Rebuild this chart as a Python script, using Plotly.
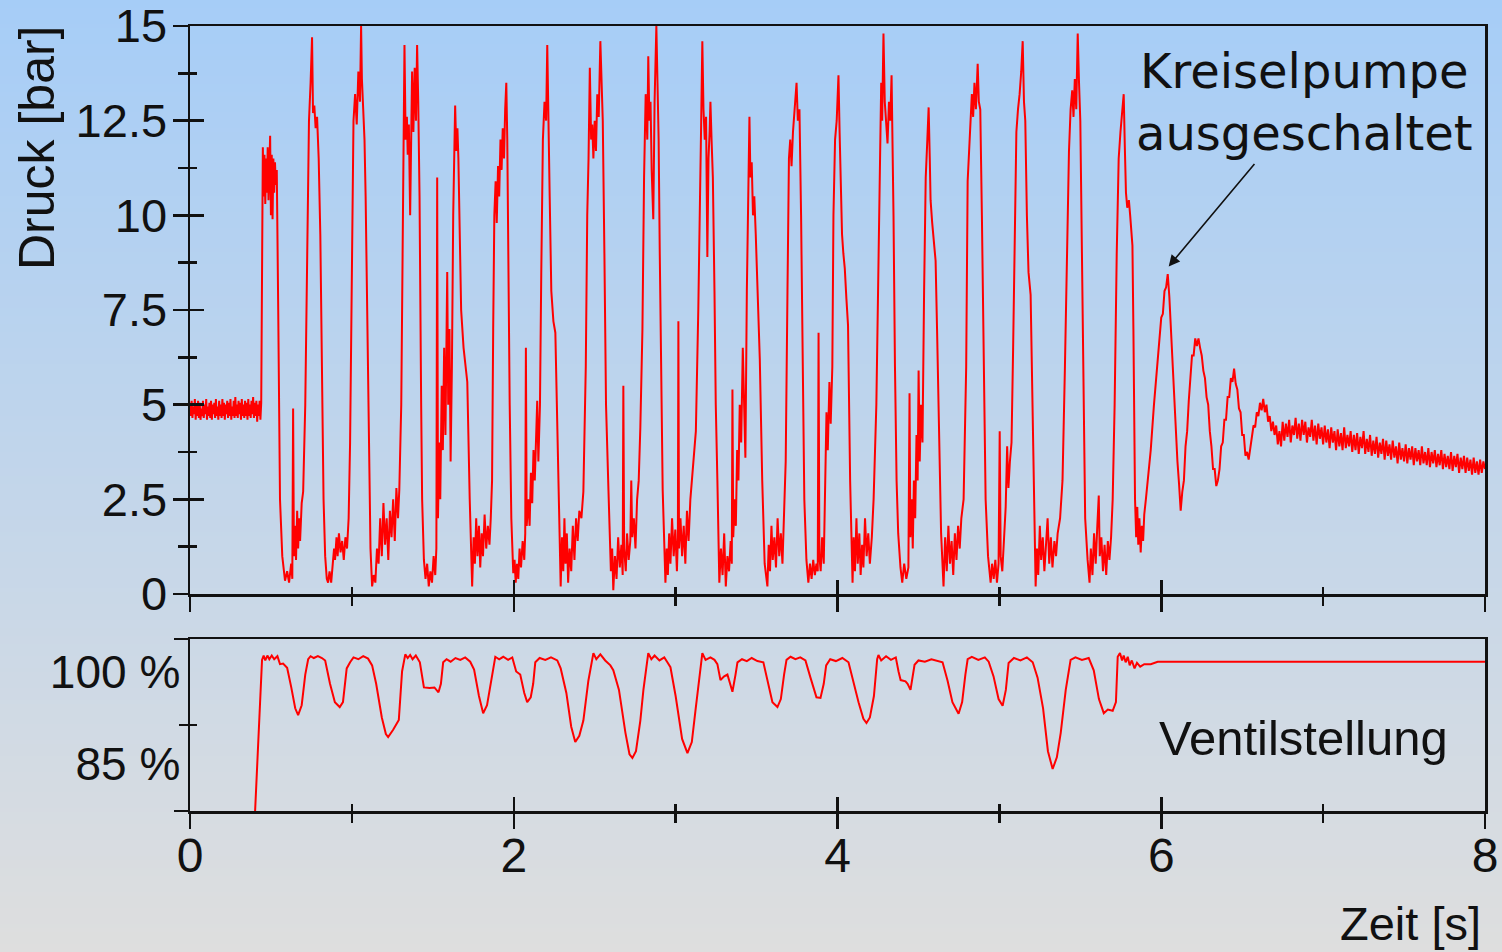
import plotly.graph_objects as go

# ---------------------------------------------------------------------------
# Messwerte: Druck [bar] über Zeit [s]
# ---------------------------------------------------------------------------
# Ruhedruck vor dem Zuschalten (verrauscht um ~4.9 bar)
druck_ruhe = [
    (0.000, 5.05), (0.005, 4.70), (0.010, 5.10), (0.015, 4.65), (0.020, 4.95), (0.025, 4.75),
    (0.030, 5.15), (0.035, 4.60), (0.040, 5.00), (0.045, 4.70), (0.050, 5.10), (0.055, 4.65),
    (0.060, 5.05), (0.065, 4.60), (0.070, 4.90), (0.075, 4.70), (0.080, 5.10), (0.085, 4.65),
    (0.090, 5.00), (0.095, 4.75), (0.100, 5.15), (0.105, 4.60), (0.110, 4.95), (0.115, 4.70),
    (0.120, 5.05), (0.125, 4.65), (0.130, 5.10), (0.135, 4.60), (0.140, 5.00), (0.145, 4.75),
    (0.150, 5.05), (0.155, 4.65), (0.160, 5.15), (0.165, 4.70), (0.170, 4.95), (0.175, 4.60),
    (0.180, 5.10), (0.185, 4.70), (0.190, 5.00), (0.195, 4.65), (0.200, 5.15), (0.205, 4.70),
    (0.210, 5.05), (0.215, 4.60), (0.220, 5.00), (0.225, 4.75), (0.230, 5.10), (0.235, 4.65),
    (0.240, 5.05), (0.245, 4.70), (0.250, 5.15), (0.255, 4.60), (0.260, 4.95), (0.265, 4.70),
    (0.270, 5.10), (0.275, 4.65), (0.280, 5.20), (0.285, 4.70), (0.290, 5.00), (0.295, 4.65),
    (0.300, 5.10), (0.305, 4.75), (0.310, 5.05), (0.315, 4.60), (0.320, 5.15), (0.325, 4.70),
    (0.330, 5.00), (0.335, 4.65), (0.340, 5.10), (0.345, 4.70), (0.350, 5.05), (0.355, 4.60),
    (0.360, 5.15), (0.365, 4.70), (0.370, 5.00), (0.375, 4.65), (0.380, 5.10), (0.385, 4.75),
    (0.390, 5.20), (0.395, 4.65), (0.400, 5.05), (0.405, 4.70), (0.410, 5.10), (0.415, 4.55),
    (0.420, 5.00), (0.425, 4.70), (0.430, 5.10), (0.435, 4.60), (0.440, 5.05),
]

# Druckpulsation bei laufender Kreiselpumpe
druck_pulsation = [
    (0.446, 10.6), (0.450, 11.8), (0.455, 10.5), (0.460, 11.6), (0.465, 10.3), (0.470, 11.5),
    (0.475, 10.6), (0.480, 11.8), (0.485, 10.4), (0.490, 11.4), (0.495, 12.1), (0.500, 10.0),
    (0.505, 11.6), (0.510, 9.9), (0.515, 11.5), (0.520, 10.6), (0.525, 11.4), (0.530, 10.8),
    (0.536, 11.2), (0.545, 7.5), (0.556, 2.5), (0.570, 1.0), (0.587, 0.35), (0.600, 0.6),
    (0.612, 0.3), (0.625, 0.8), (0.632, 0.4), (0.637, 4.9), (0.642, 1.0), (0.649, 1.8),
    (0.655, 0.9), (0.662, 2.2), (0.668, 1.2), (0.675, 2.0), (0.680, 1.4), (0.690, 2.4),
    (0.699, 2.7), (0.712, 5.0),
    (0.723, 9.0), (0.735, 12.5), (0.745, 13.5), (0.754, 14.7), (0.760, 12.7), (0.768, 12.9),
    (0.776, 12.3), (0.785, 12.6), (0.795, 11.5), (0.805, 9.5), (0.815, 6.0), (0.825, 2.5),
    (0.835, 1.0), (0.845, 0.4), (0.853, 0.3), (0.862, 0.6), (0.872, 0.3), (0.880, 0.7),
    (0.890, 1.2), (0.896, 0.9), (0.905, 1.5), (0.912, 1.0), (0.920, 1.6), (0.930, 1.1),
    (0.940, 1.4), (0.950, 0.9), (0.960, 1.5), (0.970, 1.2), (0.980, 2.0), (0.989, 4.0),
    (1.000, 9.0), (1.010, 12.5), (1.020, 13.2), (1.030, 12.4), (1.040, 13.8), (1.050, 13.0),
    (1.057, 15.0), (1.062, 13.6), (1.070, 12.8), (1.078, 12.0), (1.085, 10.5), (1.094, 7.8),
    (1.105, 4.0), (1.115, 1.2), (1.125, 0.2), (1.135, 0.5), (1.145, 0.3), (1.155, 1.2),
    (1.165, 0.8), (1.175, 2.0), (1.185, 1.0), (1.195, 2.4), (1.205, 1.3), (1.215, 2.0),
    (1.225, 0.9), (1.235, 2.2), (1.245, 1.5), (1.255, 2.5), (1.265, 1.4), (1.275, 2.8),
    (1.285, 2.0), (1.293, 2.75), (1.305, 5.0),
    (1.317, 10.0), (1.325, 14.5), (1.332, 12.0), (1.340, 12.6), (1.345, 11.6), (1.352, 12.4),
    (1.360, 10.0), (1.366, 12.8), (1.372, 13.8), (1.380, 12.2), (1.388, 13.9), (1.396, 12.5),
    (1.403, 14.5), (1.410, 13.0), (1.418, 10.5), (1.428, 5.0), (1.434, 2.5), (1.445, 0.9),
    (1.455, 0.4), (1.465, 0.8), (1.475, 0.2), (1.485, 0.6), (1.495, 0.3), (1.505, 1.0),
    (1.515, 0.5), (1.522, 1.2), (1.527, 11.0), (1.532, 2.0), (1.540, 4.0), (1.546, 2.5),
    (1.555, 5.5), (1.562, 3.8), (1.570, 6.5), (1.578, 4.2), (1.585, 7.9), (1.589, 8.5),
    (1.595, 5.0), (1.603, 7.0), (1.610, 3.5), (1.618, 6.0),
    (1.626, 10.0), (1.634, 12.2), (1.638, 12.9), (1.645, 11.7), (1.652, 12.3), (1.658, 11.5),
    (1.666, 9.5), (1.675, 7.5), (1.690, 6.5), (1.705, 6.0), (1.713, 5.6), (1.728, 2.5),
    (1.743, 0.2), (1.752, 1.5), (1.760, 0.8), (1.768, 2.0), (1.776, 1.0), (1.785, 1.8),
    (1.793, 0.7), (1.802, 1.6), (1.810, 1.0), (1.820, 2.1), (1.830, 1.2), (1.840, 1.8),
    (1.850, 1.3), (1.858, 2.0), (1.866, 3.0),
    (1.873, 7.0), (1.880, 10.0), (1.888, 10.9), (1.895, 9.8), (1.903, 11.3), (1.910, 10.5),
    (1.918, 12.0), (1.925, 11.2), (1.932, 12.3), (1.940, 11.5), (1.947, 12.8), (1.954, 13.5),
    (1.960, 12.0), (1.966, 9.0), (1.975, 5.0), (1.985, 2.0), (1.997, 0.55), (2.005, 0.9),
    (2.012, 0.3), (2.020, 0.8), (2.028, 0.4), (2.036, 1.2), (2.045, 0.7), (2.055, 1.4),
    (2.065, 0.9), (2.071, 1.6), (2.075, 6.5), (2.080, 1.8), (2.090, 2.5), (2.098, 1.8),
    (2.106, 3.2), (2.114, 2.4), (2.122, 3.8), (2.130, 3.0), (2.138, 4.5), (2.145, 5.1),
    (2.152, 3.5), (2.162, 5.0),
    (2.170, 8.5), (2.180, 12.0), (2.190, 13.0), (2.200, 12.5), (2.207, 14.5), (2.214, 13.0),
    (2.222, 10.5), (2.232, 8.0), (2.245, 7.2), (2.257, 6.9), (2.270, 4.0), (2.282, 1.0),
    (2.290, 0.2), (2.298, 1.5), (2.306, 0.6), (2.313, 2.0), (2.320, 0.8), (2.328, 1.6),
    (2.336, 0.3), (2.345, 1.2), (2.355, 0.6), (2.365, 1.8), (2.375, 0.9), (2.385, 2.0),
    (2.395, 1.4), (2.405, 2.2), (2.418, 2.0), (2.430, 2.7), (2.445, 6.0),
    (2.454, 10.0), (2.462, 11.5), (2.470, 13.9), (2.478, 12.0), (2.485, 12.4), (2.492, 11.5),
    (2.500, 12.5), (2.508, 11.7), (2.516, 13.2), (2.525, 12.6), (2.535, 14.6), (2.542, 13.5),
    (2.550, 12.5), (2.560, 9.0), (2.570, 5.0), (2.585, 2.75), (2.600, 0.6), (2.608, 1.2),
    (2.615, 0.1), (2.625, 1.0), (2.635, 0.4), (2.645, 1.5), (2.655, 0.7), (2.665, 1.3),
    (2.673, 0.5), (2.677, 5.5), (2.682, 1.2), (2.692, 0.6), (2.700, 1.6), (2.710, 0.9),
    (2.720, 1.4), (2.726, 3.0), (2.732, 1.5), (2.742, 2.0), (2.752, 1.2), (2.762, 2.5),
    (2.772, 3.0), (2.782, 4.4), (2.795, 7.0),
    (2.805, 11.0), (2.815, 13.2), (2.825, 12.0), (2.831, 14.2), (2.838, 12.5), (2.845, 13.0),
    (2.852, 11.2), (2.862, 9.9), (2.870, 13.0), (2.881, 15.0), (2.888, 13.5), (2.895, 12.0),
    (2.902, 9.0), (2.910, 5.5), (2.920, 2.75), (2.937, 0.3), (2.945, 1.2), (2.952, 0.5),
    (2.960, 1.6), (2.968, 0.8), (2.978, 2.0), (2.988, 1.0), (2.998, 1.7), (3.008, 0.6),
    (3.014, 1.5), (3.017, 7.2), (3.021, 1.2), (3.030, 2.0), (3.040, 1.0), (3.050, 1.8),
    (3.060, 0.8), (3.070, 2.2), (3.080, 1.4), (3.091, 2.5), (3.110, 3.5), (3.125, 4.3),
    (3.140, 7.5),
    (3.150, 11.0), (3.158, 12.5), (3.165, 14.6), (3.172, 12.8), (3.180, 12.0), (3.188, 12.6),
    (3.196, 8.9), (3.203, 11.5), (3.210, 12.2), (3.215, 13.0), (3.222, 12.0), (3.230, 11.0),
    (3.240, 8.0), (3.248, 5.0), (3.258, 3.0), (3.270, 0.3), (3.280, 1.2), (3.290, 0.5),
    (3.300, 1.6), (3.310, 0.2), (3.320, 1.0), (3.330, 0.6), (3.340, 1.4), (3.347, 0.8),
    (3.351, 5.4), (3.356, 1.5), (3.365, 2.5), (3.372, 1.8), (3.380, 3.8), (3.388, 3.0),
    (3.396, 5.0), (3.405, 4.0), (3.415, 6.5), (3.425, 4.5), (3.431, 3.6), (3.440, 8.0),
    (3.450, 11.0), (3.456, 12.6), (3.462, 11.0), (3.470, 11.4), (3.478, 10.0), (3.486, 10.5),
    (3.495, 9.5), (3.505, 8.0), (3.520, 6.2), (3.535, 3.0), (3.550, 0.8), (3.567, 0.2),
    (3.575, 1.3), (3.583, 0.6), (3.592, 1.8), (3.600, 0.9), (3.610, 1.5), (3.620, 0.7),
    (3.630, 2.0), (3.640, 1.0), (3.650, 1.6), (3.660, 0.8), (3.670, 2.0), (3.680, 3.5),
    (3.691, 8.0), (3.700, 11.5), (3.708, 12.0), (3.716, 11.3), (3.725, 12.2), (3.735, 12.8),
    (3.747, 13.5), (3.755, 12.5), (3.765, 12.8), (3.775, 10.0), (3.784, 6.0), (3.795, 2.5),
    (3.808, 0.9), (3.820, 0.3), (3.830, 0.8), (3.840, 0.4), (3.850, 0.9), (3.860, 0.5),
    (3.870, 0.8), (3.878, 0.6), (3.883, 6.9), (3.888, 1.0), (3.896, 0.6), (3.905, 1.5),
    (3.915, 0.8), (3.925, 3.4), (3.932, 4.8), (3.940, 3.8), (3.950, 5.6), (3.958, 4.5),
    (3.968, 6.0),
    (3.975, 10.0), (3.985, 12.0), (3.995, 12.5), (4.006, 13.7), (4.013, 12.2), (4.020, 11.0),
    (4.028, 9.5), (4.036, 9.0), (4.045, 8.6), (4.055, 7.8), (4.065, 7.1), (4.078, 3.0),
    (4.093, 0.3), (4.100, 1.5), (4.108, 0.6), (4.117, 2.0), (4.125, 0.8), (4.135, 1.6),
    (4.143, 0.5), (4.152, 1.3), (4.160, 0.7), (4.170, 2.0), (4.180, 1.0), (4.190, 1.6),
    (4.200, 0.8), (4.212, 1.5), (4.223, 2.5), (4.240, 5.0),
    (4.253, 9.0), (4.262, 12.0), (4.270, 13.5), (4.276, 12.5), (4.284, 14.8), (4.292, 13.0),
    (4.300, 12.5), (4.309, 11.9), (4.318, 13.0), (4.326, 12.5), (4.334, 13.7), (4.340, 12.0),
    (4.346, 10.0), (4.355, 6.0), (4.365, 3.0), (4.375, 1.6), (4.389, 0.7), (4.400, 0.3),
    (4.412, 0.8), (4.425, 0.4), (4.438, 0.7), (4.445, 5.3), (4.450, 1.5), (4.458, 2.5),
    (4.465, 1.2), (4.472, 3.0), (4.480, 2.0), (4.488, 4.2), (4.495, 3.0), (4.501, 5.9),
    (4.508, 3.5), (4.516, 5.0), (4.525, 4.0),
    (4.535, 8.0), (4.545, 11.0), (4.555, 12.0), (4.563, 12.85), (4.570, 11.5), (4.575, 10.4),
    (4.585, 9.8), (4.595, 9.4), (4.606, 8.8), (4.615, 7.0), (4.628, 4.0), (4.640, 1.6),
    (4.655, 0.2), (4.665, 1.5), (4.675, 0.6), (4.685, 1.8), (4.695, 0.8), (4.705, 1.4),
    (4.715, 0.5), (4.725, 1.6), (4.735, 0.9), (4.745, 1.8), (4.755, 1.2), (4.765, 2.0),
    (4.779, 2.5), (4.795, 6.0),
    (4.804, 10.9), (4.812, 11.5), (4.822, 12.5), (4.830, 13.2), (4.838, 12.6), (4.846, 13.5),
    (4.855, 12.8), (4.866, 14.0), (4.873, 13.0), (4.882, 12.8), (4.892, 10.0), (4.903, 6.0),
    (4.915, 2.5), (4.930, 1.0), (4.946, 0.3), (4.955, 0.8), (4.965, 0.4), (4.975, 0.9),
    (4.985, 0.3), (4.995, 0.8), (5.002, 4.3), (5.008, 1.0), (5.018, 0.6), (5.028, 1.4),
    (5.039, 2.3), (5.048, 3.9), (5.056, 2.8), (5.065, 3.5), (5.075, 4.0), (5.085, 6.5),
    (5.095, 10.0), (5.105, 12.2), (5.115, 12.8), (5.125, 13.2), (5.135, 13.8), (5.144, 14.6),
    (5.152, 13.0), (5.160, 12.5), (5.170, 10.0), (5.180, 8.5), (5.193, 7.9), (5.205, 5.0),
    (5.215, 2.0), (5.224, 0.2), (5.232, 1.2), (5.240, 0.5), (5.250, 1.8), (5.258, 0.9),
    (5.268, 1.5), (5.278, 0.6), (5.288, 1.3), (5.298, 2.0), (5.308, 0.8), (5.318, 1.5),
    (5.328, 0.7), (5.340, 1.4), (5.350, 1.0), (5.360, 1.6), (5.375, 2.0), (5.390, 3.0),
    (5.405, 6.0),
    (5.420, 10.0), (5.430, 11.7), (5.440, 12.8), (5.450, 13.3), (5.458, 12.6), (5.466, 13.6),
    (5.475, 12.8), (5.484, 14.8), (5.492, 13.5), (5.500, 12.5), (5.510, 9.0), (5.520, 5.0),
    (5.530, 2.0), (5.545, 0.9), (5.557, 0.3), (5.565, 1.2), (5.575, 0.5), (5.585, 1.6),
    (5.595, 0.8), (5.605, 1.8), (5.614, 2.6), (5.620, 1.0), (5.630, 1.5), (5.640, 0.6),
    (5.650, 1.3), (5.660, 0.5), (5.670, 1.4), (5.680, 0.9), (5.690, 1.5), (5.700, 2.5),
    (5.712, 5.0),
    (5.725, 9.0), (5.737, 11.5), (5.748, 12.2), (5.758, 12.8), (5.768, 13.2), (5.775, 11.8),
    (5.782, 10.6), (5.790, 10.2), (5.800, 10.4), (5.808, 10.0), (5.815, 9.6), (5.822, 9.2),
    (5.828, 7.0), (5.834, 4.0), (5.838, 2.5), (5.845, 1.5), (5.852, 2.3), (5.858, 1.3),
    (5.865, 2.0), (5.873, 1.1), (5.880, 1.8), (5.888, 1.4), (5.895, 2.1), (5.905, 2.5),
    (5.920, 3.2), (5.935, 3.8), (5.955, 5.0), (5.975, 6.0),
]

# Ausschwingen nach dem Abschalten der Kreiselpumpe
druck_nachlauf = [
    (6.00, 7.30), (6.01, 7.40), (6.02, 8.00), (6.03, 8.10), (6.04, 8.45), (6.05, 7.85),
    (6.06, 6.90), (6.07, 6.10), (6.08, 5.00), (6.09, 4.40), (6.10, 3.50), (6.11, 2.90),
    (6.12, 2.20), (6.13, 2.70), (6.14, 3.00), (6.15, 3.90), (6.16, 4.30), (6.17, 5.10),
    (6.18, 5.60), (6.19, 6.30), (6.20, 6.30), (6.21, 6.75), (6.22, 6.55), (6.23, 6.75),
    (6.24, 6.50), (6.25, 6.30), (6.26, 5.90), (6.27, 5.70), (6.28, 5.20), (6.29, 5.00),
    (6.30, 4.30), (6.31, 3.90), (6.32, 3.30), (6.33, 3.30), (6.34, 2.85), (6.35, 3.00),
    (6.36, 3.30), (6.37, 3.90), (6.38, 4.00), (6.39, 4.60), (6.40, 4.60), (6.41, 5.20),
    (6.42, 5.20), (6.43, 5.70), (6.44, 5.60), (6.45, 5.95), (6.46, 5.55), (6.47, 5.40),
    (6.48, 4.90), (6.49, 4.80), (6.50, 4.20), (6.51, 4.20), (6.52, 3.65), (6.53, 3.75),
    (6.54, 3.55), (6.55, 3.90), (6.56, 4.10), (6.57, 4.45), (6.58, 4.40), (6.59, 4.80),
    (6.60, 4.70), (6.61, 5.05), (6.62, 4.85), (6.63, 5.15), (6.64, 4.80), (6.65, 5.00),
    (6.66, 4.55), (6.67, 4.70), (6.68, 4.30), (6.69, 4.55), (6.70, 4.20), (6.71, 4.45),
    (6.72, 3.95), (6.73, 4.30), (6.74, 3.90),
    (6.75, 4.55), (6.76, 4.05), (6.77, 4.50), (6.78, 4.15), (6.79, 4.60), (6.80, 4.00),
    (6.81, 4.45), (6.82, 4.20), (6.83, 4.65), (6.84, 4.10), (6.85, 4.50), (6.86, 4.05),
    (6.87, 4.60), (6.88, 4.20), (6.89, 4.55), (6.90, 4.00), (6.91, 4.40), (6.92, 4.15),
    (6.93, 4.60), (6.94, 4.05), (6.95, 4.45), (6.96, 3.95), (6.97, 4.50), (6.98, 4.10),
    (6.99, 4.40), (7.00, 3.95), (7.01, 4.45), (7.02, 4.00), (7.03, 4.35), (7.04, 3.85),
    (7.05, 4.40), (7.06, 4.00), (7.07, 4.30), (7.08, 3.80), (7.09, 4.35), (7.10, 3.90),
    (7.11, 4.25), (7.12, 3.80), (7.13, 4.40), (7.14, 3.85), (7.15, 4.20), (7.16, 3.90),
    (7.17, 4.30), (7.18, 3.75), (7.19, 4.20), (7.20, 3.80), (7.21, 4.25), (7.22, 3.70),
    (7.23, 4.15), (7.24, 3.85), (7.25, 4.30), (7.26, 3.70), (7.27, 4.10), (7.28, 3.75),
    (7.29, 4.20), (7.30, 3.65), (7.31, 4.05), (7.32, 3.70), (7.33, 4.15), (7.34, 3.60),
    (7.35, 4.00), (7.36, 3.70), (7.37, 4.10), (7.38, 3.55), (7.39, 4.05), (7.40, 3.65),
    (7.41, 3.95), (7.42, 3.55), (7.43, 4.05), (7.44, 3.60), (7.45, 3.90), (7.46, 3.45),
    (7.47, 4.00), (7.48, 3.55), (7.49, 3.85), (7.50, 3.50), (7.51, 3.95), (7.52, 3.45),
    (7.53, 3.85), (7.54, 3.55), (7.55, 3.90), (7.56, 3.40), (7.57, 3.85), (7.58, 3.50),
    (7.59, 3.80), (7.60, 3.40), (7.61, 3.90), (7.62, 3.45), (7.63, 3.75), (7.64, 3.40),
    (7.65, 3.85), (7.66, 3.35), (7.67, 3.75), (7.68, 3.45), (7.69, 3.80), (7.70, 3.35),
    (7.71, 3.70), (7.72, 3.40), (7.73, 3.80), (7.74, 3.30), (7.75, 3.70), (7.76, 3.35),
    (7.77, 3.65), (7.78, 3.30), (7.79, 3.75), (7.80, 3.25), (7.81, 3.65), (7.82, 3.35),
    (7.83, 3.70), (7.84, 3.20), (7.85, 3.60), (7.86, 3.30), (7.87, 3.65), (7.88, 3.20),
    (7.89, 3.60), (7.90, 3.25), (7.91, 3.55), (7.92, 3.15), (7.93, 3.60), (7.94, 3.20),
    (7.95, 3.50), (7.96, 3.15), (7.97, 3.55), (7.98, 3.20), (7.99, 3.50), (8.00, 3.30),
]

# ---------------------------------------------------------------------------
# Messwerte: Ventilstellung [%] über Zeit [s]
# ---------------------------------------------------------------------------
ventil = [
    (0.400, 76.0), (0.445, 101.9), (0.455, 102.6), (0.465, 101.8), (0.478, 102.6), (0.490, 102.0),
    (0.505, 102.6), (0.520, 102.0), (0.540, 102.5), (0.556, 101.2), (0.575, 101.3), (0.600, 100.6),
    (0.625, 97.5), (0.650, 94.0), (0.668, 92.9), (0.690, 94.5), (0.712, 99.5), (0.730, 102.0),
    (0.745, 102.5), (0.765, 102.2), (0.790, 102.5), (0.815, 102.2), (0.835, 101.8), (0.865, 98.0),
    (0.895, 95.0), (0.925, 94.2), (0.945, 95.0), (0.968, 100.5), (0.989, 101.5), (1.010, 102.3),
    (1.040, 102.0), (1.070, 102.5), (1.100, 102.1), (1.125, 101.0), (1.150, 98.0), (1.185, 92.5),
    (1.210, 89.8), (1.224, 89.3), (1.255, 90.5), (1.290, 92.1), (1.310, 100.0), (1.330, 102.8),
    (1.345, 102.2), (1.360, 102.7), (1.375, 102.0), (1.395, 102.6), (1.420, 101.5), (1.434, 99.0),
    (1.445, 97.4), (1.480, 97.3), (1.510, 97.4), (1.535, 96.6), (1.550, 98.0), (1.564, 101.5),
    (1.585, 102.0), (1.610, 101.6), (1.640, 102.2), (1.670, 101.9), (1.700, 102.3), (1.731, 101.6),
    (1.755, 100.3), (1.785, 96.0), (1.811, 93.2), (1.835, 94.5), (1.860, 98.5), (1.886, 102.4),
    (1.910, 102.0), (1.935, 102.4), (1.965, 101.9), (1.991, 102.3), (2.015, 100.0), (2.040, 99.5),
    (2.065, 96.5), (2.083, 95.0), (2.105, 95.8), (2.120, 98.0), (2.133, 101.5), (2.160, 102.2),
    (2.195, 101.9), (2.230, 102.3), (2.269, 101.8), (2.290, 100.5), (2.325, 96.5), (2.355, 91.0),
    (2.380, 88.5), (2.405, 89.5), (2.430, 92.0), (2.461, 98.5), (2.492, 103.0), (2.510, 102.0),
    (2.535, 102.8), (2.565, 101.8), (2.597, 101.0), (2.615, 100.2), (2.650, 97.0), (2.690, 90.0),
    (2.715, 86.5), (2.733, 85.9), (2.755, 87.0), (2.782, 92.0), (2.801, 97.0), (2.831, 103.0),
    (2.850, 102.0), (2.870, 102.6), (2.900, 101.8), (2.930, 102.3), (2.949, 101.5), (2.968, 100.7),
    (3.000, 96.0), (3.040, 89.0), (3.073, 86.7), (3.100, 88.5), (3.122, 93.5), (3.145, 99.0),
    (3.165, 103.0), (3.185, 101.9), (3.215, 102.3), (3.240, 101.9), (3.258, 101.2), (3.277, 98.6),
    (3.300, 99.2), (3.320, 99.5), (3.340, 97.5), (3.351, 96.7), (3.370, 99.5), (3.382, 101.5),
    (3.410, 102.0), (3.440, 101.7), (3.470, 102.2), (3.505, 101.7), (3.542, 101.5), (3.567, 98.5),
    (3.598, 95.0), (3.629, 94.2), (3.650, 95.5), (3.670, 99.5), (3.685, 101.9), (3.710, 102.4),
    (3.740, 102.0), (3.770, 102.3), (3.802, 101.8), (3.833, 99.0), (3.870, 95.8), (3.895, 95.7),
    (3.915, 98.0), (3.930, 101.0), (3.955, 102.0), (3.990, 101.7), (4.030, 102.2), (4.068, 101.5),
    (4.100, 98.0), (4.130, 95.0), (4.160, 92.3), (4.179, 91.6), (4.200, 92.5), (4.225, 96.0),
    (4.245, 102.0), (4.253, 102.7), (4.270, 101.8), (4.300, 102.5), (4.330, 101.9), (4.360, 102.3),
    (4.377, 100.0), (4.390, 98.6), (4.420, 98.4), (4.433, 98.0), (4.451, 97.0), (4.465, 99.5),
    (4.476, 101.1), (4.500, 101.8), (4.540, 101.6), (4.580, 102.0), (4.620, 101.7), (4.649, 101.5),
    (4.680, 98.5), (4.710, 95.0), (4.748, 93.1), (4.770, 95.0), (4.790, 99.5), (4.804, 102.0),
    (4.830, 102.4), (4.870, 101.9), (4.910, 102.3), (4.934, 101.6), (4.964, 99.2), (4.995, 95.5),
    (5.020, 94.4), (5.040, 97.0), (5.057, 101.4), (5.090, 102.2), (5.130, 101.8), (5.170, 102.3),
    (5.206, 101.5), (5.236, 99.0), (5.270, 94.0), (5.300, 87.0), (5.329, 84.1), (5.355, 86.0),
    (5.379, 90.0), (5.410, 97.0), (5.440, 101.9), (5.470, 102.3), (5.510, 101.9), (5.552, 102.2),
    (5.583, 100.2), (5.615, 95.5), (5.645, 93.2), (5.670, 93.8), (5.700, 93.6), (5.720, 95.0),
    (5.731, 102.4), (5.745, 103.0), (5.758, 101.8), (5.768, 102.6), (5.780, 101.5), (5.793, 102.4),
    (5.805, 101.0), (5.818, 101.8), (5.835, 100.5), (5.850, 101.4), (5.870, 100.8), (5.895, 101.2),
    (5.935, 101.2), (5.978, 101.6), (6.500, 101.6), (7.000, 101.6), (7.500, 101.6), (8.000, 101.6),
]

# Achsen und Beschriftungen
druck_ticks = [0, 2.5, 5, 7.5, 10, 12.5, 15]
druck_ticktext = ["0", "2.5", "5", "7.5", "10", "12.5", "15"]
zeit_ticks = [0, 2, 4, 6, 8]
zeit_minor = [1, 3, 5, 7]
ventil_ticks = [85, 100]
ventil_ticktext = ["85 %", "100 %"]
ventil_bereich = [77.25, 105.3]
ventil_mitte = 91.27

# ---------------------------------------------------------------------------
W, H = 1502, 952
M_L, M_R, M_T, M_B = 190, 17, 26, 141
PLOT_H = H - M_T - M_B
PLOT_W = W - M_L - M_R


def py_to_paper(py):
    return (H - M_B - py) / PLOT_H


def px_to_paper(px):
    return (px - M_L) / PLOT_W


TOP_DOMAIN = [py_to_paper(594), 1.0]
BOT_DOMAIN = [0.0, py_to_paper(639)]

ARIAL = "Arial, Liberation Sans, Helvetica, sans-serif"
RED = "#ff0000"
AX = "#111111"

zeit_p = [t for t, _ in druck_ruhe + druck_pulsation + druck_nachlauf]
wert_p = [p for _, p in druck_ruhe + druck_pulsation + druck_nachlauf]
zeit_v = [t for t, _ in ventil]
wert_v = [v for _, v in ventil]

fig = go.Figure()
fig.add_trace(go.Scatter(x=zeit_p, y=wert_p, mode="lines", xaxis="x", yaxis="y",
                         line=dict(color=RED, width=2), hoverinfo="skip", showlegend=False))
fig.add_trace(go.Scatter(x=zeit_v, y=wert_v, mode="lines", xaxis="x2", yaxis="y2",
                         line=dict(color=RED, width=2), hoverinfo="skip", showlegend=False))
# empty traces so that the secondary axes (inner tick marks) are drawn
for xa, ya in [("x3", "y"), ("x", "y3"), ("x4", "y2"), ("x2", "y4"), ("x2", "y5")]:
    fig.add_trace(go.Scatter(x=[], y=[], xaxis=xa, yaxis=ya, showlegend=False, hoverinfo="skip"))

TICKFONT = dict(family=ARIAL, size=47, color="#111111")
common = dict(showgrid=False, zeroline=False, tickcolor=AX, tickwidth=2.5)

fig.update_layout(
    width=W, height=H, autosize=False,
    margin=dict(l=M_L, r=M_R, t=M_T, b=M_B, pad=0, autoexpand=False),
    paper_bgcolor="#c8d6e6", plot_bgcolor="rgba(0,0,0,0)",
    showlegend=False,
    # top panel
    xaxis=dict(domain=[0, 1], anchor="y", range=[0, 8], showline=True, linecolor=AX,
               linewidth=2.5, mirror=True, tickmode="array", tickvals=zeit_ticks,
               ticks="outside", ticklen=15, showticklabels=False,
               minor=dict(tickvals=zeit_minor, ticks="outside", ticklen=9, tickwidth=2.5,
                          tickcolor=AX), **common),
    xaxis3=dict(overlaying="x", anchor="y", side="bottom", range=[0, 8], showline=False,
                tickmode="array", tickvals=zeit_ticks, ticks="inside", ticklen=14,
                showticklabels=False,
                minor=dict(tickvals=zeit_minor, ticks="inside", ticklen=7, tickwidth=2.5,
                           tickcolor=AX), **common),
    yaxis=dict(domain=TOP_DOMAIN, anchor="x", range=[0, 15], showline=True, linecolor=AX,
               linewidth=2.5, mirror=True, tickmode="array", tickvals=druck_ticks,
               ticktext=druck_ticktext, ticks="outside", ticklen=15, ticklabelstandoff=-4,
               ticklabeloverflow="allow", tickfont=TICKFONT,
               minor=dict(dtick=1.25, tick0=0, ticks="outside", ticklen=10, tickwidth=2.5,
                          tickcolor=AX), **common),
    yaxis3=dict(overlaying="y", anchor="x", side="left", range=[0, 15], showline=False,
                tickmode="array", tickvals=druck_ticks, ticks="inside", ticklen=14,
                showticklabels=False,
                minor=dict(dtick=1.25, tick0=0, ticks="inside", ticklen=7, tickwidth=2.5,
                           tickcolor=AX), **common),
    # bottom panel
    xaxis2=dict(domain=[0, 1], anchor="y2", range=[0, 8], showline=True, linecolor=AX,
                linewidth=2.5, mirror=True, tickmode="array", tickvals=zeit_ticks,
                ticktext=[str(v) for v in zeit_ticks], ticks="outside", ticklen=15,
                ticklabelstandoff=-14, ticklabeloverflow="allow",
                tickfont=dict(family=ARIAL, size=48, color="#111111"),
                minor=dict(tickvals=zeit_minor, ticks="outside", ticklen=9, tickwidth=2.5,
                           tickcolor=AX), **common),
    xaxis4=dict(overlaying="x2", anchor="y2", side="bottom", range=[0, 8], showline=False,
                tickmode="array", tickvals=zeit_ticks, ticks="inside", ticklen=14,
                showticklabels=False,
                minor=dict(tickvals=zeit_minor, ticks="inside", ticklen=7, tickwidth=2.5,
                           tickcolor=AX), **common),
    yaxis2=dict(domain=BOT_DOMAIN, anchor="x2", range=ventil_bereich, showline=True,
                linecolor=AX, linewidth=2.5, mirror=True, tickmode="array",
                tickvals=ventil_ticks, ticktext=ventil_ticktext, ticks="",
                ticklabelstandoff=-2, tickfont=dict(family=ARIAL, size=46, color="#111111"),
                **common),
    yaxis4=dict(overlaying="y2", anchor="x2", side="left", range=ventil_bereich,
                showline=False, tickmode="array", tickvals=ventil_bereich, ticks="outside",
                ticklen=15, showticklabels=False,
                minor=dict(tickvals=[ventil_mitte], ticks="outside", ticklen=10, tickwidth=2.5,
                           tickcolor=AX), **common),
    yaxis5=dict(overlaying="y2", anchor="x2", side="left", range=ventil_bereich,
                showline=False, tickmode="array", tickvals=[ventil_mitte], ticks="inside",
                ticklen=7, showticklabels=False, **common),
)

# vertical colour gradient behind the whole figure
TOP_RGB = (166, 205, 247)
BOT_RGB = (222, 222, 222)
BAND = 4
shapes = []
for y0 in range(0, H, BAND):
    f = (y0 + BAND / 2) / H
    r, g, b = (round(a + (c - a) * f) for a, c in zip(TOP_RGB, BOT_RGB))
    shapes.append(dict(type="rect", xref="paper", yref="paper", layer="below",
                       x0=px_to_paper(-2), x1=px_to_paper(W + 2),
                       y0=py_to_paper(y0 + BAND + 0.5), y1=py_to_paper(y0),
                       line=dict(width=0), fillcolor=f"rgb({r},{g},{b})"))
fig.update_layout(shapes=shapes)

annotations = [
    dict(text="Druck [bar]", xref="paper", yref="paper", x=px_to_paper(37), y=py_to_paper(148),
         textangle=-90, showarrow=False, xanchor="center", yanchor="middle",
         font=dict(family=ARIAL, size=50, color="#111111")),
    dict(text="Zeit [s]", xref="paper", yref="paper", x=px_to_paper(1410), y=py_to_paper(923),
         showarrow=False, xanchor="center", yanchor="middle",
         font=dict(family=ARIAL, size=47, color="#111111")),
    dict(text="Ventilstellung", xref="paper", yref="paper", x=px_to_paper(1303), y=py_to_paper(738),
         showarrow=False, xanchor="center", yanchor="middle",
         font=dict(family=ARIAL, size=49, color="#111111")),
    dict(text="Kreiselpumpe<br>ausgeschaltet", xref="paper", yref="paper",
         x=px_to_paper(1304), y=py_to_paper(102), showarrow=False, xanchor="center",
         yanchor="middle", align="center",
         font=dict(family="Verdana, DejaVu Sans, sans-serif", size=48, color="#111111")),
    dict(text="", xref="x", yref="y", x=6.046, y=8.65, ax=87, ay=-104, axref="pixel",
         ayref="pixel", showarrow=True, arrowhead=2, arrowsize=1.4, arrowwidth=1.6,
         arrowcolor="#111111"),
]
fig.update_layout(annotations=annotations)

fig.write_html("out.html", config={"displayModeBar": False, "staticPlot": True})
